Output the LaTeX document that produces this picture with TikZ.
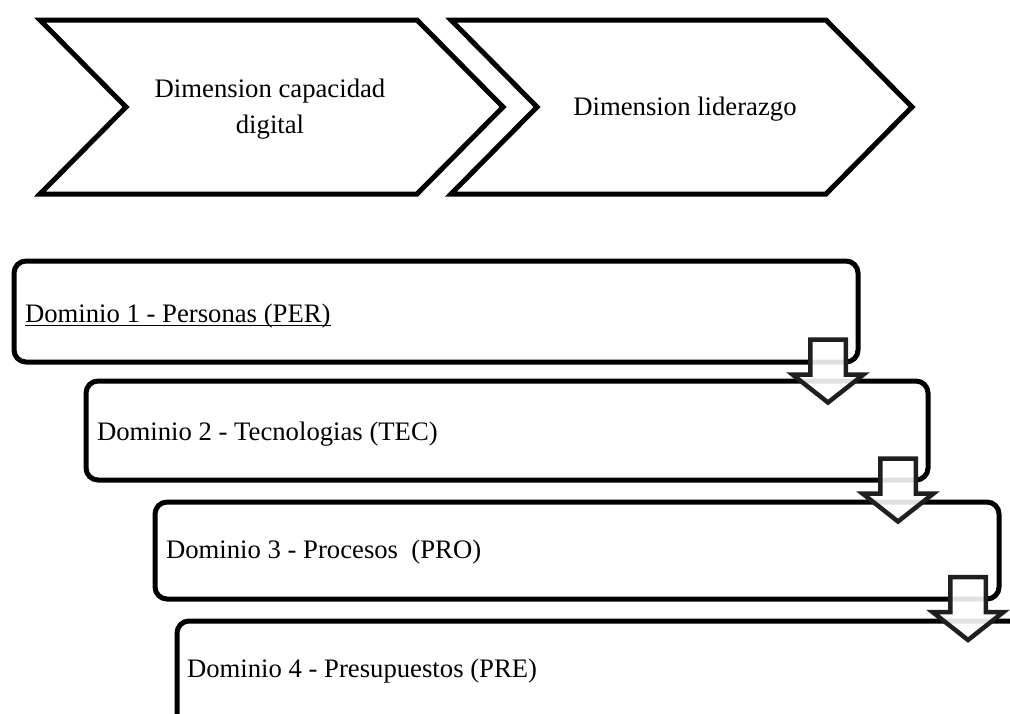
\documentclass[tikz,border=0pt]{standalone}
\usepackage{fontspec}
\setmainfont{Liberation Serif}
\newfontfamily\tnrfont{Liberation Serif}
\usetikzlibrary{calc}
\begin{document}
\begin{tikzpicture}[x=1pt,y=-1pt,
  lbl/.style={inner sep=0pt, outer sep=0pt, font=\tnrfont\fontsize{26.7}{36}\selectfont},
  chev/.style={draw=black, line width=5pt, fill=white, line join=miter},
  dombox/.style={draw=black, line width=5pt, fill=white, rounded corners=12pt, inner sep=0pt, outer sep=0pt, anchor=north west},
  darrow/.style={draw=black!88, line width=4.5pt, fill=white, fill opacity=0.88, line join=miter},
  flowarrow/.pic={\draw[darrow] (-17.75,0) -- (17.75,0) -- (17.75,35) -- (35.5,35) -- (0,63) -- (-35.5,35) -- (-17.75,35) -- cycle;}]
\useasboundingbox (0,0) rectangle (1010,713);
\clip (0,0) rectangle (1010,713);
% chevrons
\draw[chev] (40,20) -- (417,20) -- (503,107) -- (417,194) -- (40,194) -- (126,107) -- cycle;
\draw[chev] (451,20) -- (826,20) -- (912,107) -- (826,194) -- (451,194) -- (537,107) -- cycle;
\node[lbl, align=center, anchor=base] (c1) at (270,133) {Dimension capacidad\\digital};
\node[lbl, anchor=base] (c2) at (685,115) {Dimension liderazgo};
% domain boxes
\node[dombox, minimum width=844pt, minimum height=101pt] (d1) at (14,261) {};
\node[dombox, minimum width=842pt, minimum height=99pt] (d2) at (86,381) {};
\node[dombox, minimum width=844pt, minimum height=97pt] (d3) at (155,502) {};
\node[dombox, minimum width=900pt, minimum height=200pt] (d4) at (177,621) {};
% labels
\node[lbl, anchor=base west] (t1) at (25,322) {Dominio 1 - Personas (PER)};
\draw[line width=1.4pt] ([yshift=-3.5pt]t1.base west) -- ([yshift=-3.5pt]t1.base east);
\node[lbl, anchor=base west] (t2) at (97,440) {Dominio 2 - Tecnologias (TEC)};
\node[lbl, anchor=base west] (t3) at (166,558) {Dominio 3 - Procesos\ \ (PRO)};
\node[lbl, anchor=base west] (t4) at (187,677) {Dominio 4 - Presupuestos (PRE)};
% arrows between boxes
\pic at ($(d1.south east)+(-30,-22.5)$) {flowarrow};
\pic at ($(d2.south east)+(-30,-21.5)$) {flowarrow};
\pic at ($(d3.south east)+(-31,-22)$) {flowarrow};
\end{tikzpicture}
\end{document}
